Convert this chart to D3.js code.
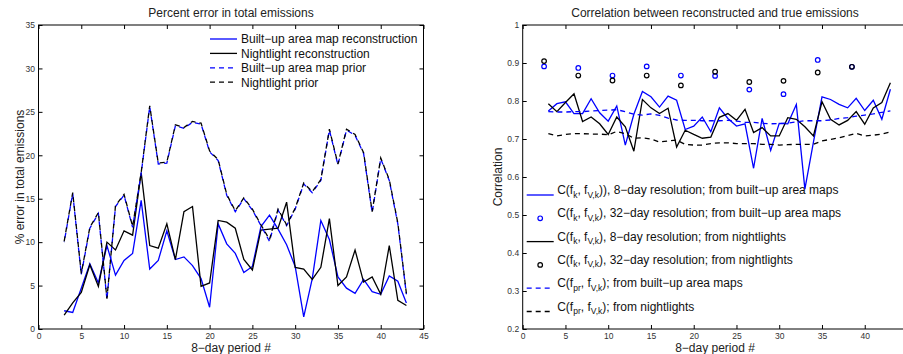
<!DOCTYPE html>
<html>
<head>
<meta charset="utf-8">
<script src="https://cdn.jsdelivr.net/npm/d3@7"></script>
<style>
  body { margin: 0; background: #fff; }
  svg { display: block; font-family: "Liberation Sans", Arial, sans-serif; }
  .axis text { font-size: 8.5px; fill: #333; }
  .axis path, .axis line { stroke: #000; }
</style>
</head>
<body>
<svg id="chart" width="903" height="354"></svg>
<script>
// period numbers on the x axis
var periods = [3,4,5,6,7,8,9,10,11,12,13,14,15,16,17,18,19,20,21,22,23,24,25,26,27,28,29,30,31,32,33,34,35,36,37,38,39,40,41,42,43];
var periods32 = [2.5,6.5,10.5,14.5,18.5,22.5,26.5,30.5,34.5,38.5];

// left panel: % error in total emissions
var builtRecon = [2.1,1.9,4.7,7.5,5.3,9.6,6.2,7.9,8.7,14.8,6.9,7.9,11.3,8.0,8.3,7.3,5.8,2.5,12.1,9.8,8.7,6.5,7.2,11.8,13.1,11.5,9.7,7.2,1.4,5.8,12.5,10.3,6.0,4.7,4.1,5.7,4.3,4.0,6.1,5.5,3.0];
var nightRecon = [1.6,3.0,4.2,7.4,4.9,10.0,9.1,11.3,10.8,18.0,9.6,9.3,12.1,8.0,13.5,14.1,4.9,5.3,12.5,12.3,11.6,8.0,6.8,11.4,11.5,11.6,14.6,7.1,6.9,5.7,7.1,12.7,5.0,6.0,9.1,5.4,6.0,4.0,9.6,3.3,2.7];
var builtPrior = [10.0,15.6,6.3,11.6,13.3,3.4,14.1,15.4,11.7,17.9,25.6,19.0,19.1,23.4,23.1,23.8,23.6,20.4,19.4,15.4,13.5,15.0,13.7,11.9,10.1,13.7,11.9,13.8,16.7,15.7,17.1,22.9,18.9,22.9,22.3,20.2,13.4,19.6,17.1,12.1,4.0];
var nightPrior = [10.1,15.7,6.4,11.7,13.4,3.5,14.2,15.5,11.8,18.0,25.7,19.1,19.2,23.5,23.2,23.9,23.7,20.5,19.5,15.5,13.6,15.1,13.8,12.0,10.3,13.8,12.0,13.9,16.8,15.8,17.2,23.0,19.0,23.0,22.4,20.3,13.5,19.7,17.2,12.2,4.1];

// right panel: correlation
var builtCorr = [0.774,0.793,0.798,0.767,0.767,0.806,0.769,0.747,0.787,0.684,0.765,0.825,0.811,0.784,0.813,0.802,0.725,0.734,0.758,0.719,0.782,0.754,0.734,0.740,0.623,0.754,0.670,0.741,0.740,0.791,0.568,0.692,0.811,0.804,0.791,0.782,0.807,0.775,0.802,0.752,0.831];
var nightCorr = [0.793,0.772,0.796,0.819,0.746,0.758,0.740,0.712,0.758,0.732,0.668,0.804,0.782,0.767,0.781,0.679,0.723,0.712,0.702,0.705,0.757,0.767,0.749,0.778,0.717,0.730,0.708,0.708,0.756,0.752,0.732,0.708,0.798,0.752,0.737,0.749,0.772,0.739,0.782,0.796,0.848];
var builtCorr32 = [0.891,0.887,0.867,0.891,0.867,0.866,0.830,0.818,0.908,0.890];
var nightCorr32 = [0.905,0.867,0.854,0.867,0.841,0.877,0.850,0.853,0.875,0.890];
var builtPriorCorr = [0.772,0.771,0.771,0.772,0.772,0.774,0.775,0.776,0.777,0.772,0.765,0.763,0.766,0.762,0.755,0.750,0.749,0.749,0.748,0.748,0.748,0.749,0.747,0.744,0.744,0.741,0.740,0.741,0.742,0.745,0.748,0.748,0.748,0.750,0.754,0.756,0.760,0.763,0.766,0.770,0.774];
var nightPriorCorr = [0.714,0.708,0.712,0.714,0.714,0.713,0.713,0.711,0.720,0.714,0.702,0.703,0.700,0.692,0.695,0.697,0.686,0.684,0.684,0.688,0.690,0.690,0.688,0.688,0.688,0.686,0.686,0.684,0.685,0.686,0.686,0.686,0.695,0.699,0.703,0.709,0.715,0.708,0.710,0.713,0.719];

// tick labels
var xTicks = [0,5,10,15,20,25,30,35,40,45];
var yTicksLeft = [0,5,10,15,20,25,30,35];
var yTicksRight = [0.2,0.3,0.4,0.5,0.6,0.7,0.8,0.9,1];

var leftLegend = ["Built\u2212up area map reconstruction", "Nightlight reconstruction", "Built\u2212up area map prior", "Nightlight prior"];

var svg = d3.select("#chart");
var blue = "#0000ff";

function makePanel(x0, x1, yDomain, yTicks, yFormat) {
  var x = d3.scaleLinear().domain([0, 45]).range([x0, x1]);
  var y = d3.scaleLinear().domain(yDomain).range([329, 25]);
  var g = svg.append("g");
  g.append("rect")
    .attr("x", x0).attr("y", 25)
    .attr("width", x1 - x0).attr("height", 304)
    .attr("fill", "none").attr("stroke", "#000").attr("stroke-width", 1);
  g.append("g").attr("class", "axis")
    .attr("transform", "translate(0,329)")
    .call(d3.axisBottom(x).tickValues(xTicks).tickSizeInner(-4).tickSizeOuter(0).tickPadding(4));
  g.append("g").attr("class", "axis")
    .attr("transform", "translate(0,25)")
    .call(d3.axisTop(x).tickValues(xTicks).tickSizeInner(-4).tickSizeOuter(0).tickFormat(""));
  g.append("g").attr("class", "axis")
    .attr("transform", "translate(" + x0 + ",0)")
    .call(d3.axisLeft(y).tickValues(yTicks).tickSizeInner(-4).tickSizeOuter(0).tickPadding(3.5).tickFormat(yFormat));
  g.append("g").attr("class", "axis")
    .attr("transform", "translate(" + x1 + ",0)")
    .call(d3.axisRight(y).tickValues(yTicks).tickSizeInner(-4).tickSizeOuter(0).tickFormat(""));
  g.selectAll(".axis .domain").remove();
  return { x: x, y: y, g: g };
}

function drawLine(p, xs, values, color, dashed, offset) {
  var line = d3.line()
    .x(function (d, i) { return p.x(xs[i]); })
    .y(function (d) { return p.y(d); });
  p.g.append("path")
    .datum(values)
    .attr("d", line)
    .attr("fill", "none")
    .attr("stroke", color)
    .attr("stroke-width", 1.3)
    .attr("stroke-dasharray", dashed ? "5,4" : null)
    .attr("stroke-dashoffset", offset || 0);
}

function drawCircles(p, xs, values, color) {
  p.g.selectAll(null)
    .data(values)
    .enter()
    .append("circle")
    .attr("cx", function (d, i) { return p.x(xs[i]); })
    .attr("cy", function (d) { return p.y(d); })
    .attr("r", 2.3)
    .attr("fill", "none")
    .attr("stroke", color)
    .attr("stroke-width", 1.2);
}

// ---- left panel
var left = makePanel(38.5, 423.5, [0, 35], yTicksLeft, d3.format("d"));
drawLine(left, periods, builtRecon, blue, false);
drawLine(left, periods, nightRecon, "#000", false);
drawLine(left, periods, builtPrior, blue, true, 4.5);
drawLine(left, periods, nightPrior, "#000", true);

svg.append("text").attr("x", 231).attr("y", 17).attr("text-anchor", "middle")
  .attr("font-size", 12).attr("fill", "#222").text("Percent error in total emissions");
svg.append("text").attr("x", 231).attr("y", 352).attr("text-anchor", "middle")
  .attr("font-size", 12).attr("fill", "#222").text("8\u2212day period #");
svg.append("text").attr("transform", "translate(24,177) rotate(-90)").attr("text-anchor", "middle")
  .attr("font-size", 12).attr("fill", "#222").text("% error in total emissions");

var legL = svg.append("g").attr("transform", "translate(210,39)");
var legStyles = [[blue, false], ["#000", false], [blue, true], ["#000", true]];
leftLegend.forEach(function (label, i) {
  var yy = i * 14.4;
  legL.append("line")
    .attr("x1", 0).attr("x2", 27).attr("y1", yy).attr("y2", yy)
    .attr("stroke", legStyles[i][0]).attr("stroke-width", 1.3)
    .attr("stroke-dasharray", legStyles[i][1] ? "5,4" : null);
  legL.append("text").attr("x", 31).attr("y", yy + 4.3)
    .attr("font-size", 12).attr("fill", "#111").text(label);
});

// ---- right panel
var right = makePanel(522.7, 907.5, [0.2, 1], yTicksRight, d3.format("~g"));
drawLine(right, periods, builtCorr, blue, false);
drawCircles(right, periods32, builtCorr32, blue);
drawLine(right, periods, nightCorr, "#000", false);
drawCircles(right, periods32, nightCorr32, "#000");
drawLine(right, periods, builtPriorCorr, blue, true);
drawLine(right, periods, nightPriorCorr, "#000", true);

svg.append("text").attr("x", 715).attr("y", 17).attr("text-anchor", "middle")
  .attr("font-size", 12).attr("fill", "#222").text("Correlation between reconstructed and true emissions");
svg.append("text").attr("x", 715).attr("y", 352).attr("text-anchor", "middle")
  .attr("font-size", 12).attr("fill", "#222").text("8\u2212day period #");
svg.append("text").attr("transform", "translate(502,177) rotate(-90)").attr("text-anchor", "middle")
  .attr("font-size", 12).attr("fill", "#222").text("Correlation");

// legend entries: [first arg, rest of label, colour, kind]
var rightLegend = [
  ["k", ")), 8\u2212day resolution; from built\u2212up area maps", blue, "line"],
  ["k", "), 32\u2212day resolution; from built\u2212up area maps", blue, "circle"],
  ["k", "), 8\u2212day resolution; from nightlights", "#000", "line"],
  ["k", "), 32\u2212day resolution; from nightlights", "#000", "circle"],
  ["pr", "); from built\u2212up area maps", blue, "dash"],
  ["pr", "); from nightlights", "#000", "dash"]
];
var legR = svg.append("g").attr("transform", "translate(526.7,194)");
rightLegend.forEach(function (e, i) {
  var yy = i * 23.3;
  if (e[3] == "circle") {
    legR.append("circle").attr("cx", 13.5).attr("cy", yy + 1).attr("r", 2.3)
      .attr("fill", "none").attr("stroke", e[2]).attr("stroke-width", 1.2);
  } else {
    legR.append("line")
      .attr("x1", 0).attr("x2", 27).attr("y1", yy + 1).attr("y2", yy + 1)
      .attr("stroke", e[2]).attr("stroke-width", 1.3)
      .attr("stroke-dasharray", e[3] == "dash" ? "5,4" : null);
  }
  var t = legR.append("text").attr("x", 30.5).attr("y", yy)
    .attr("font-size", 12).attr("fill", "#111");
  t.append("tspan").text("C(f");
  t.append("tspan").attr("font-size", 8.5).attr("dy", 3.5).text(e[0]);
  t.append("tspan").attr("dy", -3.5).text(", f");
  t.append("tspan").attr("font-size", 8.5).attr("dy", 3.5).text("V,k");
  t.append("tspan").attr("dy", -3.5).text(e[1]);
});
</script>
</body>
</html>
